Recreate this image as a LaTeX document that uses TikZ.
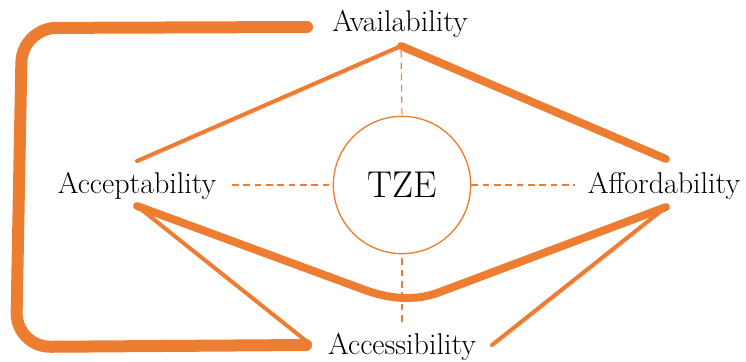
\documentclass[tikz,border=0pt]{standalone}
\usepackage{xcolor}
\usetikzlibrary{positioning}
\definecolor{tze orange}{RGB}{237,125,49}

\begin{document}
\begin{tikzpicture}[x=0.75pt, y=-0.75pt,
					pillar label/.style={font=\fontsize{22.5}{26}\selectfont, inner sep=0pt},
					shade line/.style={line cap=round, tze orange,
						preaction={draw=black, opacity=0.12, transform canvas={shift={(1.2pt,-1.5pt)}}}},
					thin link/.style={shade line, line width=3pt},
					thick link/.style={shade line, line width=6pt},
					frame link/.style={shade line, line width=9pt, rounded corners=26pt},
					guide/.style={draw=tze orange, line width=0.8pt, dash pattern=on 5pt off 3.5pt},
				]
					\useasboundingbox (0,0) rectangle (746,361);

					\node[circle, draw=tze orange, line width=1pt, minimum size=103pt, inner sep=0pt] (tze) at (402,185) {};
					\node[font=\fontsize{28}{32}\selectfont] at (tze) {TZE};

					\node[pillar label] (avail) at (400,24) {Availability};
					\node[pillar label] (accept) at (137,186) {Acceptability};
					\node[pillar label] (afford) at (664,186) {Affordability};
					\node[pillar label] (access) at (402,347) {Accessibility};

					\coordinate (av) at (401,46);
					\coordinate (ac) at (137,206);
					\coordinate (af) at (666,207);
					\coordinate (ac top) at (137,161);
					\coordinate (af top) at (666,159);
					\coordinate (bl) at (365,290);
					\coordinate (br) at (440,292);
					\coordinate (fl) at (310,344);
					\coordinate (fr) at (492,345);
					\coordinate (top end) at (307,27);
					\coordinate (bot end) at (306,345);

					% dashed guides to the centre
					\draw[guide] (av) ++(0,5) -- (tze.north);
					\draw[guide] (tze.south) ++(0,4) -- ++(0,64);
					\draw[guide] (232,185) -- (tze.west);
					\draw[guide] (tze.east) -- (575,185);

					% links between the pillars
					\draw[thin link] (av) -- (ac top);
					\draw[thick link] (av) -- (af top);
					\draw[thick link] (ac) -- (bl) .. controls (390,299) and (415,301.5) .. (br) -- (af);
					\draw[thin link] (ac) -- (fl);
					\draw[thin link] (af) -- (fr);

					% outer bracket
					\draw[frame link] (top end) -- (22,28) -- (16,347) -- (bot end);
				\end{tikzpicture}
\end{document}
